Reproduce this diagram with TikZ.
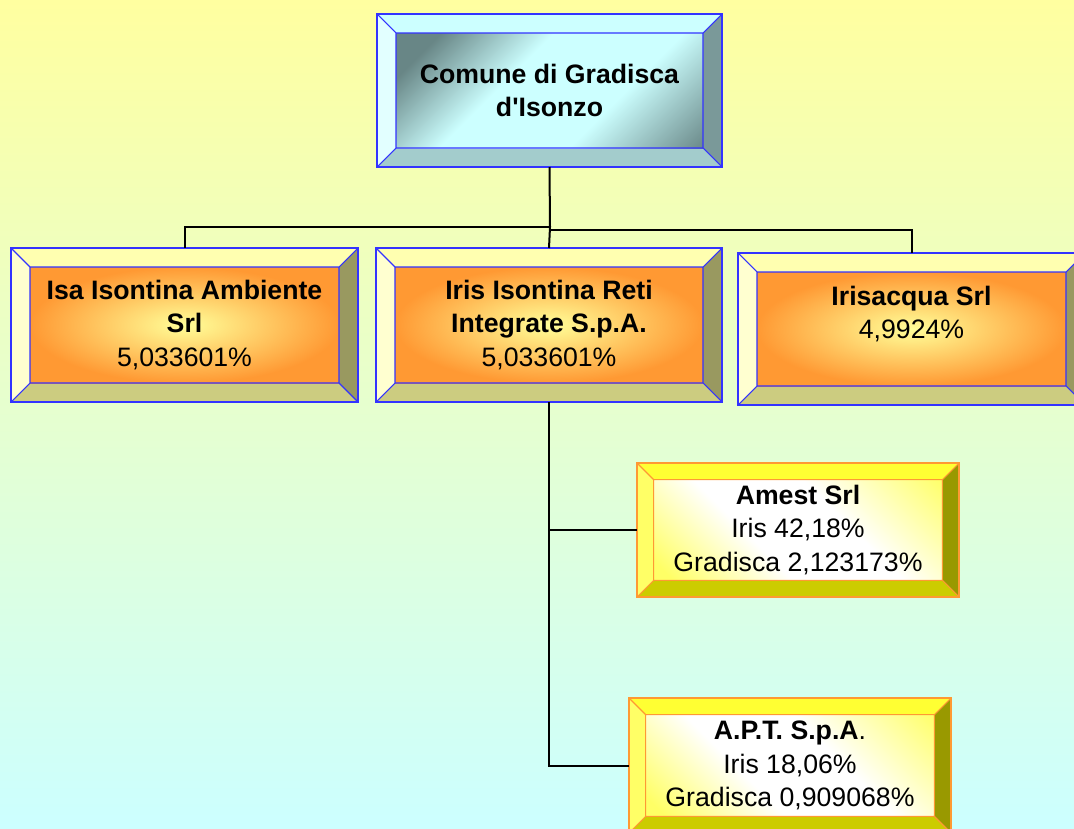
\documentclass[tikz,border=0pt]{standalone}
\usepackage{fontspec}
\setmainfont{Liberation Sans}
\usetikzlibrary{calc}
\definecolor{bgtop}{RGB}{255,255,160}
\definecolor{bgbottom}{RGB}{204,255,255}
\definecolor{comtop}{RGB}{204,255,255}
\definecolor{comleft}{RGB}{226,255,255}
\definecolor{comright}{RGB}{122,153,153}
\definecolor{combottom}{RGB}{163,204,204}
\definecolor{comdark}{RGB}{104,134,134}
\definecolor{comlight}{RGB}{204,255,255}
\definecolor{socline}{RGB}{51,51,255}
\definecolor{soctop}{RGB}{255,255,176}
\definecolor{socleft}{RGB}{255,255,208}
\definecolor{socright}{RGB}{153,153,96}
\definecolor{socbottom}{RGB}{204,204,128}
\definecolor{socorange}{RGB}{255,153,51}
\definecolor{socpale}{RGB}{255,255,153}
\definecolor{partop}{RGB}{255,255,51}
\definecolor{parleft}{RGB}{255,255,102}
\definecolor{parright}{RGB}{153,153,0}
\definecolor{parbottom}{RGB}{204,204,0}
\definecolor{paryellow}{RGB}{255,255,102}
\definecolor{parline}{RGB}{255,153,51}

\pgfdeclarehorizontalshading{comshade}{100bp}{color(0bp)=(comdark); color(22bp)=(comdark); color(41bp)=(comlight); color(63bp)=(comlight); color(86bp)=(comdark); color(100bp)=(comdark)}
\pgfdeclarehorizontalshading{parshade}{100bp}{color(0bp)=(paryellow); color(18bp)=(paryellow); color(40bp)=(white); color(60bp)=(white); color(86bp)=(paryellow); color(100bp)=(paryellow)}

% bevelled frame: depth, top, left, right, bottom, inner shading, line colour
\newcommand{\bevelface}[7]{%
  \coordinate (onw) at (path picture bounding box.north west);
  \coordinate (one) at (path picture bounding box.north east);
  \coordinate (osw) at (path picture bounding box.south west);
  \coordinate (ose) at (path picture bounding box.south east);
  \coordinate (inw) at ($(onw)+(#1,-#1)$);
  \coordinate (ine) at ($(one)+(-#1,-#1)$);
  \coordinate (isw) at ($(osw)+(#1,#1)$);
  \coordinate (ise) at ($(ose)+(-#1,#1)$);
  \fill[#2] (onw) -- (one) -- (ine) -- (inw) -- cycle;
  \fill[#3] (onw) -- (inw) -- (isw) -- (osw) -- cycle;
  \fill[#4] (one) -- (ose) -- (ise) -- (ine) -- cycle;
  \fill[#5] (osw) -- (isw) -- (ise) -- (ose) -- cycle;
  \shade[#6] (inw) rectangle (ise);
  \draw[#7, line width=0.8pt] (inw) rectangle (ise) (onw) -- (inw) (one) -- (ine) (osw) -- (isw) (ose) -- (ise);
}

\begin{document}
\begin{tikzpicture}[x=0.75pt, y=-0.75pt,
        box/.style={rectangle, inner sep=0pt, outer sep=0pt, align=center, line width=0.8pt, font=\fontsize{20}{25.2}\selectfont},
        comune/.style={box, draw=socline, path picture={\bevelface{14.25pt}{comtop}{comleft}{comright}{combottom}{shading=comshade, shading angle=-45}{socline}}},
        societa/.style={box, draw=socline, path picture={\bevelface{14.25pt}{soctop}{socleft}{socright}{socbottom}{inner color=socpale, outer color=socorange}{socline}}},
        partecipata/.style={box, draw=parline, path picture={\bevelface{12.5pt}{partop}{parleft}{parright}{parbottom}{shading=parshade, shading angle=45}{parline}}},
        link/.style={line width=1.5pt, black}
    ]
        \useasboundingbox (0,0) rectangle (1074,828);
        \shade[top color=bgtop, bottom color=bgbottom] (0,0) rectangle (1074,828);

        \node[comune, minimum width=258.75pt, minimum height=114.75pt] (gradisca) at (549.5,90.5) {\textbf{Comune di Gradisca}\\\textbf{d\textquotesingle Isonzo}};
        \node[societa, minimum width=260.25pt, minimum height=115.5pt] (isa) at (184.5,325) {\textbf{Isa Isontina Ambiente}\\\textbf{Srl}\\5,033601\%};
        \node[societa, minimum width=259.5pt, minimum height=115.5pt] (iris) at (549,325) {\textbf{Iris Isontina Reti}\\\textbf{Integrate S.p.A.}\\5,033601\%};
        \node[societa, minimum width=260.25pt, minimum height=114pt] (irisacqua) at (911.5,329) {\textbf{Irisacqua Srl}\\4,9924\%\\\mbox{}};
        \node[partecipata, minimum width=241.5pt, minimum height=100.5pt] (amest) at (798,530) {\textbf{Amest Srl}\\Iris 42,18\%\\Gradisca 2,123173\%};
        \node[partecipata, minimum width=241.5pt, minimum height=101.25pt] (apt) at (790,765.5) {\textbf{A.P.T. S.p.A}.\\Iris 18,06\%\\Gradisca 0,909068\%};

        \coordinate (busleft) at (550,227);
        \coordinate (busright) at (550,230);

        \draw[link] (gradisca.south) -- (busleft);
        \draw[link] (busleft) -| (isa.north);
        \draw[link] (busright) -| (irisacqua.north);
        \draw[link] (busleft) -- (iris.north);
        \draw[link] (iris.south) |- (apt.west);
        \draw[link] (iris.south |- amest.west) -- (amest.west);
    \end{tikzpicture}
\end{document}
